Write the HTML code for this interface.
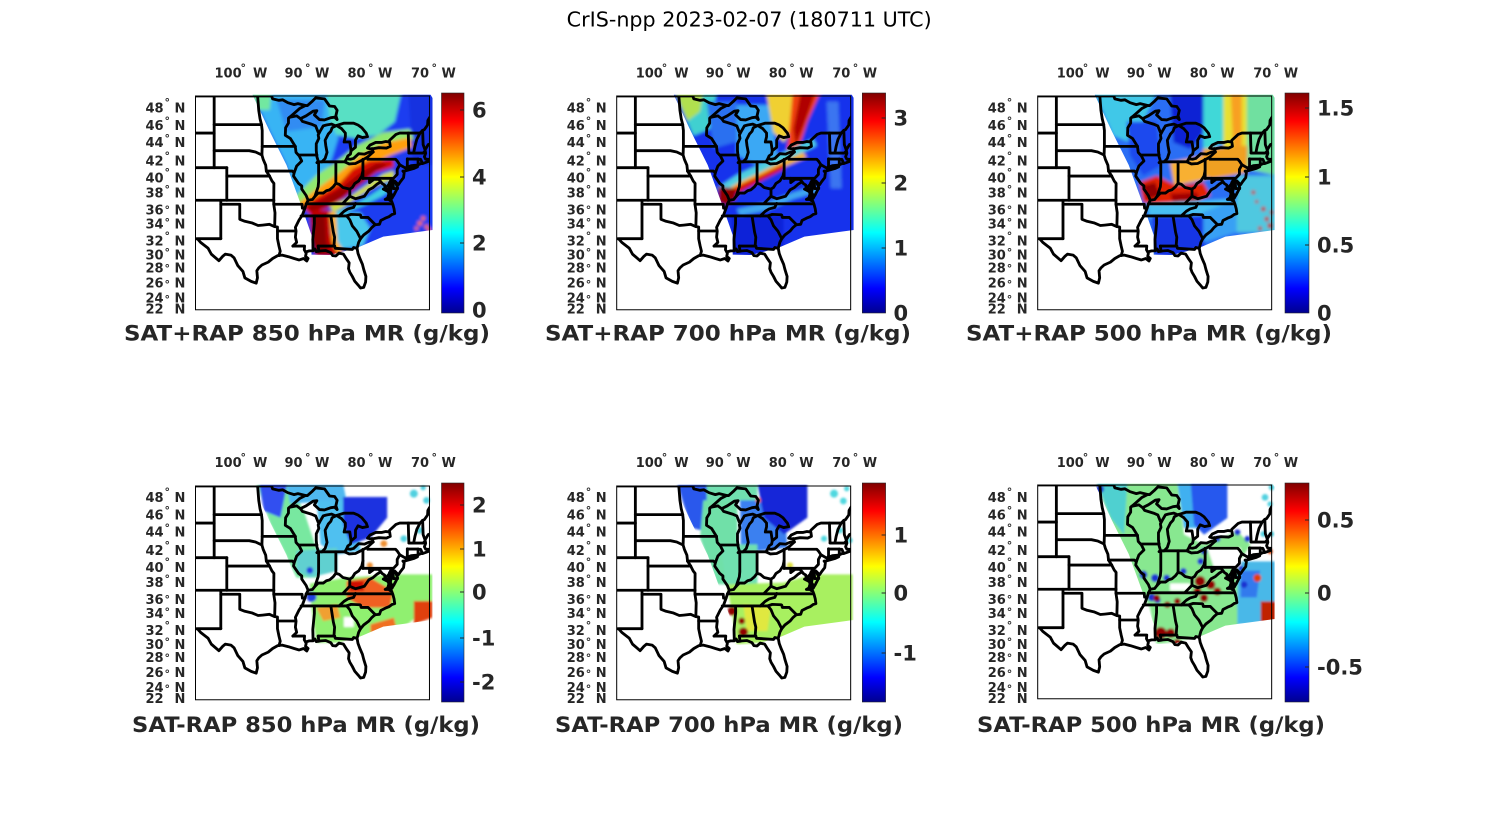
<!DOCTYPE html>
<html><head><meta charset="utf-8">
<style>
html,body{margin:0;padding:0;background:#fff;width:1500px;height:825px;overflow:hidden;}
svg{display:block;}
.t{font-family:"DejaVu Sans","Liberation Sans",sans-serif;font-weight:bold;font-size:13px;fill:#262626;}
.d{font-family:"DejaVu Sans","Liberation Sans",sans-serif;font-weight:bold;font-size:11px;fill:#262626;}
.c{font-family:"DejaVu Sans","Liberation Sans",sans-serif;font-weight:bold;font-size:21px;fill:#262626;}
.h{font-family:"DejaVu Sans","Liberation Sans",sans-serif;font-weight:bold;font-size:21.5px;fill:#262626;}
.m{font-family:"DejaVu Sans","Liberation Sans",sans-serif;font-size:20px;fill:#000;}
</style></head>
<body>
<svg id="s" width="1500" height="825" viewBox="0 0 1500 825" xmlns="http://www.w3.org/2000/svg">
<defs>
<linearGradient id="jet" x1="0" y1="1" x2="0" y2="0">
<stop offset="0" stop-color="#00008f"/>
<stop offset="0.111" stop-color="#0000ff"/>
<stop offset="0.365" stop-color="#00ffff"/>
<stop offset="0.619" stop-color="#ffff00"/>
<stop offset="0.873" stop-color="#ff0000"/>
<stop offset="1" stop-color="#800000"/>
</linearGradient>
<filter id="bl" filterUnits="userSpaceOnUse" x="-200" y="-200" width="1600" height="1400"><feGaussianBlur stdDeviation="5"/></filter>
<filter id="bl2" filterUnits="userSpaceOnUse" x="-200" y="-200" width="1600" height="1400"><feGaussianBlur stdDeviation="3.5"/></filter>
</defs>
<rect x="0" y="0" width="1500" height="825" fill="#fff"/>

<text class="m" x="749.2" y="26.7" text-anchor="middle" textLength="365" lengthAdjust="spacingAndGlyphs">CrIS-npp 2023-02-07 (180711 UTC)</text>

<g id="maps"></g>

<!-- colorbars -->
<rect x="441.5" y="93" width="22.5" height="220" fill="url(#jet)" stroke="#262626" stroke-width="0.6"/>
<rect x="862.3" y="93" width="23.3" height="220" fill="url(#jet)" stroke="#262626" stroke-width="0.6"/>
<rect x="1285" y="93" width="24" height="220" fill="url(#jet)" stroke="#262626" stroke-width="0.6"/>
<rect x="441.5" y="483" width="22.5" height="219" fill="url(#jet)" stroke="#262626" stroke-width="0.6"/>
<rect x="862.3" y="483" width="23.3" height="219" fill="url(#jet)" stroke="#262626" stroke-width="0.6"/>
<rect x="1285" y="483" width="24" height="219" fill="url(#jet)" stroke="#262626" stroke-width="0.6"/>
<path d="M460,110h4M460,177h4M460,243h4M881.6,118h4M881.6,183h4M881.6,248h4M1305,108h4M1305,177h4M1305,245h4M460,505h4M460,549h4M460,592h4M460,638h4M460,682h4M881.6,535h4M881.6,593h4M881.6,653h4M1305,520h4M1305,593h4M1305,667h4" stroke="#262626" stroke-width="1" fill="none"/>

<!-- colorbar labels -->
<text class="c" x="472" y="117.6">6</text>
<text class="c" x="472" y="184.6">4</text>
<text class="c" x="472" y="250.6">2</text>
<text class="c" x="472" y="317.6">0</text>
<text class="c" x="893.5" y="125.6">3</text>
<text class="c" x="893.5" y="190.6">2</text>
<text class="c" x="893.5" y="255.6">1</text>
<text class="c" x="893.5" y="320.6">0</text>
<text class="c" x="1317" y="115.6">1.5</text>
<text class="c" x="1317" y="184.6">1</text>
<text class="c" x="1317" y="252.6">0.5</text>
<text class="c" x="1317" y="320.6">0</text>
<text class="c" x="472" y="512.6">2</text>
<text class="c" x="472" y="556.6">1</text>
<text class="c" x="472" y="599.6">0</text>
<text class="c" x="472" y="645.6">-1</text>
<text class="c" x="472" y="689.6">-2</text>
<text class="c" x="893.5" y="542.6">1</text>
<text class="c" x="893.5" y="600.6">0</text>
<text class="c" x="893.5" y="660.6">-1</text>
<text class="c" x="1317" y="527.6">0.5</text>
<text class="c" x="1317" y="600.6">0</text>
<text class="c" x="1317" y="674.6">-0.5</text>

<!-- panel titles -->
<text class="h" x="307" y="340.5" text-anchor="middle" textLength="366" lengthAdjust="spacingAndGlyphs">SAT+RAP 850 hPa MR (g/kg)</text>
<text class="h" x="728" y="340.5" text-anchor="middle" textLength="366" lengthAdjust="spacingAndGlyphs">SAT+RAP 700 hPa MR (g/kg)</text>
<text class="h" x="1149" y="340.5" text-anchor="middle" textLength="366" lengthAdjust="spacingAndGlyphs">SAT+RAP 500 hPa MR (g/kg)</text>
<text class="h" x="306" y="732" text-anchor="middle" textLength="348" lengthAdjust="spacingAndGlyphs">SAT-RAP 850 hPa MR (g/kg)</text>
<text class="h" x="729" y="732" text-anchor="middle" textLength="348" lengthAdjust="spacingAndGlyphs">SAT-RAP 700 hPa MR (g/kg)</text>
<text class="h" x="1151" y="732" text-anchor="middle" textLength="348" lengthAdjust="spacingAndGlyphs">SAT-RAP 500 hPa MR (g/kg)</text>

<!-- axis labels panel 1 -->
<g transform="translate(195.5,96)">
<text class="t" x="19" y="-18.5">100</text><text class="d" x="45" y="-24.3">°</text><text class="t" x="57.5" y="-18.5">W</text>
<text class="t" x="89" y="-18.5">90</text><text class="d" x="109.5" y="-24.3">°</text><text class="t" x="119.5" y="-18.5">W</text>
<text class="t" x="152" y="-18.5">80</text><text class="d" x="172.5" y="-24.3">°</text><text class="t" x="182.5" y="-18.5">W</text>
<text class="t" x="215.5" y="-18.5">70</text><text class="d" x="236" y="-24.3">°</text><text class="t" x="246" y="-18.5">W</text>
<text class="t" x="-50" y="16.7">48</text><text class="d" x="-31" y="10.2">°</text><text class="t" x="-21" y="16.7">N</text>
<text class="t" x="-50" y="34">46</text><text class="d" x="-31" y="28.5">°</text><text class="t" x="-21" y="34">N</text>
<text class="t" x="-50" y="51">44</text><text class="d" x="-31" y="45.9">°</text><text class="t" x="-21" y="51">N</text>
<text class="t" x="-50" y="69.7">42</text><text class="d" x="-31" y="63.5">°</text><text class="t" x="-21" y="69.7">N</text>
<text class="t" x="-50" y="86.7">40</text><text class="d" x="-31" y="80.2">°</text><text class="t" x="-21" y="86.7">N</text>
<text class="t" x="-50" y="101.3">38</text><text class="d" x="-31" y="96.9">°</text><text class="t" x="-21" y="101.3">N</text>
<text class="t" x="-50" y="118.3">36</text><text class="d" x="-31" y="117.5">°</text><text class="t" x="-21" y="118.3">N</text>
<text class="t" x="-50" y="132.3">34</text><text class="d" x="-31" y="130.2">°</text><text class="t" x="-21" y="132.3">N</text>
<text class="t" x="-50" y="149.7">32</text><text class="d" x="-31" y="143.5">°</text><text class="t" x="-21" y="149.7">N</text>
<text class="t" x="-50" y="163.3">30</text><text class="d" x="-31" y="160.2">°</text><text class="t" x="-21" y="163.3">N</text>
<text class="t" x="-50" y="176.7">28</text><text class="d" x="-31" y="176.2">°</text><text class="t" x="-21" y="176.7">N</text>
<text class="t" x="-50" y="191.7">26</text><text class="d" x="-31" y="191.9">°</text><text class="t" x="-21" y="191.7">N</text>
<text class="t" x="-50" y="206.3">24</text><text class="d" x="-31" y="206.9">°</text><text class="t" x="-21" y="206.3">N</text>
<text class="t" x="-50" y="217.3">22</text><text class="t" x="-21" y="217.3">N</text>
</g>
<!-- axis labels panel 2 -->
<g transform="translate(616.7,96)">
<text class="t" x="19" y="-18.5">100</text><text class="d" x="45" y="-24.3">°</text><text class="t" x="57.5" y="-18.5">W</text>
<text class="t" x="89" y="-18.5">90</text><text class="d" x="109.5" y="-24.3">°</text><text class="t" x="119.5" y="-18.5">W</text>
<text class="t" x="152" y="-18.5">80</text><text class="d" x="172.5" y="-24.3">°</text><text class="t" x="182.5" y="-18.5">W</text>
<text class="t" x="215.5" y="-18.5">70</text><text class="d" x="236" y="-24.3">°</text><text class="t" x="246" y="-18.5">W</text>
<text class="t" x="-50" y="16.7">48</text><text class="d" x="-31" y="10.2">°</text><text class="t" x="-21" y="16.7">N</text>
<text class="t" x="-50" y="34">46</text><text class="d" x="-31" y="28.5">°</text><text class="t" x="-21" y="34">N</text>
<text class="t" x="-50" y="51">44</text><text class="d" x="-31" y="45.9">°</text><text class="t" x="-21" y="51">N</text>
<text class="t" x="-50" y="69.7">42</text><text class="d" x="-31" y="63.5">°</text><text class="t" x="-21" y="69.7">N</text>
<text class="t" x="-50" y="86.7">40</text><text class="d" x="-31" y="80.2">°</text><text class="t" x="-21" y="86.7">N</text>
<text class="t" x="-50" y="101.3">38</text><text class="d" x="-31" y="96.9">°</text><text class="t" x="-21" y="101.3">N</text>
<text class="t" x="-50" y="118.3">36</text><text class="d" x="-31" y="117.5">°</text><text class="t" x="-21" y="118.3">N</text>
<text class="t" x="-50" y="132.3">34</text><text class="d" x="-31" y="130.2">°</text><text class="t" x="-21" y="132.3">N</text>
<text class="t" x="-50" y="149.7">32</text><text class="d" x="-31" y="143.5">°</text><text class="t" x="-21" y="149.7">N</text>
<text class="t" x="-50" y="163.3">30</text><text class="d" x="-31" y="160.2">°</text><text class="t" x="-21" y="163.3">N</text>
<text class="t" x="-50" y="176.7">28</text><text class="d" x="-31" y="176.2">°</text><text class="t" x="-21" y="176.7">N</text>
<text class="t" x="-50" y="191.7">26</text><text class="d" x="-31" y="191.9">°</text><text class="t" x="-21" y="191.7">N</text>
<text class="t" x="-50" y="206.3">24</text><text class="d" x="-31" y="206.9">°</text><text class="t" x="-21" y="206.3">N</text>
<text class="t" x="-50" y="217.3">22</text><text class="t" x="-21" y="217.3">N</text>
</g>
<!-- axis labels panel 3 -->
<g transform="translate(1037.7,96)">
<text class="t" x="19" y="-18.5">100</text><text class="d" x="45" y="-24.3">°</text><text class="t" x="57.5" y="-18.5">W</text>
<text class="t" x="89" y="-18.5">90</text><text class="d" x="109.5" y="-24.3">°</text><text class="t" x="119.5" y="-18.5">W</text>
<text class="t" x="152" y="-18.5">80</text><text class="d" x="172.5" y="-24.3">°</text><text class="t" x="182.5" y="-18.5">W</text>
<text class="t" x="215.5" y="-18.5">70</text><text class="d" x="236" y="-24.3">°</text><text class="t" x="246" y="-18.5">W</text>
<text class="t" x="-50" y="16.7">48</text><text class="d" x="-31" y="10.2">°</text><text class="t" x="-21" y="16.7">N</text>
<text class="t" x="-50" y="34">46</text><text class="d" x="-31" y="28.5">°</text><text class="t" x="-21" y="34">N</text>
<text class="t" x="-50" y="51">44</text><text class="d" x="-31" y="45.9">°</text><text class="t" x="-21" y="51">N</text>
<text class="t" x="-50" y="69.7">42</text><text class="d" x="-31" y="63.5">°</text><text class="t" x="-21" y="69.7">N</text>
<text class="t" x="-50" y="86.7">40</text><text class="d" x="-31" y="80.2">°</text><text class="t" x="-21" y="86.7">N</text>
<text class="t" x="-50" y="101.3">38</text><text class="d" x="-31" y="96.9">°</text><text class="t" x="-21" y="101.3">N</text>
<text class="t" x="-50" y="118.3">36</text><text class="d" x="-31" y="117.5">°</text><text class="t" x="-21" y="118.3">N</text>
<text class="t" x="-50" y="132.3">34</text><text class="d" x="-31" y="130.2">°</text><text class="t" x="-21" y="132.3">N</text>
<text class="t" x="-50" y="149.7">32</text><text class="d" x="-31" y="143.5">°</text><text class="t" x="-21" y="149.7">N</text>
<text class="t" x="-50" y="163.3">30</text><text class="d" x="-31" y="160.2">°</text><text class="t" x="-21" y="163.3">N</text>
<text class="t" x="-50" y="176.7">28</text><text class="d" x="-31" y="176.2">°</text><text class="t" x="-21" y="176.7">N</text>
<text class="t" x="-50" y="191.7">26</text><text class="d" x="-31" y="191.9">°</text><text class="t" x="-21" y="191.7">N</text>
<text class="t" x="-50" y="206.3">24</text><text class="d" x="-31" y="206.9">°</text><text class="t" x="-21" y="206.3">N</text>
<text class="t" x="-50" y="217.3">22</text><text class="t" x="-21" y="217.3">N</text>
</g>
<!-- axis labels panel 4 -->
<g transform="translate(195.5,485.5)">
<text class="t" x="19" y="-18.5">100</text><text class="d" x="45" y="-24.3">°</text><text class="t" x="57.5" y="-18.5">W</text>
<text class="t" x="89" y="-18.5">90</text><text class="d" x="109.5" y="-24.3">°</text><text class="t" x="119.5" y="-18.5">W</text>
<text class="t" x="152" y="-18.5">80</text><text class="d" x="172.5" y="-24.3">°</text><text class="t" x="182.5" y="-18.5">W</text>
<text class="t" x="215.5" y="-18.5">70</text><text class="d" x="236" y="-24.3">°</text><text class="t" x="246" y="-18.5">W</text>
<text class="t" x="-50" y="16.7">48</text><text class="d" x="-31" y="10.2">°</text><text class="t" x="-21" y="16.7">N</text>
<text class="t" x="-50" y="34">46</text><text class="d" x="-31" y="28.5">°</text><text class="t" x="-21" y="34">N</text>
<text class="t" x="-50" y="51">44</text><text class="d" x="-31" y="45.9">°</text><text class="t" x="-21" y="51">N</text>
<text class="t" x="-50" y="69.7">42</text><text class="d" x="-31" y="63.5">°</text><text class="t" x="-21" y="69.7">N</text>
<text class="t" x="-50" y="86.7">40</text><text class="d" x="-31" y="80.2">°</text><text class="t" x="-21" y="86.7">N</text>
<text class="t" x="-50" y="101.3">38</text><text class="d" x="-31" y="96.9">°</text><text class="t" x="-21" y="101.3">N</text>
<text class="t" x="-50" y="118.3">36</text><text class="d" x="-31" y="117.5">°</text><text class="t" x="-21" y="118.3">N</text>
<text class="t" x="-50" y="132.3">34</text><text class="d" x="-31" y="130.2">°</text><text class="t" x="-21" y="132.3">N</text>
<text class="t" x="-50" y="149.7">32</text><text class="d" x="-31" y="143.5">°</text><text class="t" x="-21" y="149.7">N</text>
<text class="t" x="-50" y="163.3">30</text><text class="d" x="-31" y="160.2">°</text><text class="t" x="-21" y="163.3">N</text>
<text class="t" x="-50" y="176.7">28</text><text class="d" x="-31" y="176.2">°</text><text class="t" x="-21" y="176.7">N</text>
<text class="t" x="-50" y="191.7">26</text><text class="d" x="-31" y="191.9">°</text><text class="t" x="-21" y="191.7">N</text>
<text class="t" x="-50" y="206.3">24</text><text class="d" x="-31" y="206.9">°</text><text class="t" x="-21" y="206.3">N</text>
<text class="t" x="-50" y="217.3">22</text><text class="t" x="-21" y="217.3">N</text>
</g>
<!-- axis labels panel 5 -->
<g transform="translate(616.7,485.5)">
<text class="t" x="19" y="-18.5">100</text><text class="d" x="45" y="-24.3">°</text><text class="t" x="57.5" y="-18.5">W</text>
<text class="t" x="89" y="-18.5">90</text><text class="d" x="109.5" y="-24.3">°</text><text class="t" x="119.5" y="-18.5">W</text>
<text class="t" x="152" y="-18.5">80</text><text class="d" x="172.5" y="-24.3">°</text><text class="t" x="182.5" y="-18.5">W</text>
<text class="t" x="215.5" y="-18.5">70</text><text class="d" x="236" y="-24.3">°</text><text class="t" x="246" y="-18.5">W</text>
<text class="t" x="-50" y="16.7">48</text><text class="d" x="-31" y="10.2">°</text><text class="t" x="-21" y="16.7">N</text>
<text class="t" x="-50" y="34">46</text><text class="d" x="-31" y="28.5">°</text><text class="t" x="-21" y="34">N</text>
<text class="t" x="-50" y="51">44</text><text class="d" x="-31" y="45.9">°</text><text class="t" x="-21" y="51">N</text>
<text class="t" x="-50" y="69.7">42</text><text class="d" x="-31" y="63.5">°</text><text class="t" x="-21" y="69.7">N</text>
<text class="t" x="-50" y="86.7">40</text><text class="d" x="-31" y="80.2">°</text><text class="t" x="-21" y="86.7">N</text>
<text class="t" x="-50" y="101.3">38</text><text class="d" x="-31" y="96.9">°</text><text class="t" x="-21" y="101.3">N</text>
<text class="t" x="-50" y="118.3">36</text><text class="d" x="-31" y="117.5">°</text><text class="t" x="-21" y="118.3">N</text>
<text class="t" x="-50" y="132.3">34</text><text class="d" x="-31" y="130.2">°</text><text class="t" x="-21" y="132.3">N</text>
<text class="t" x="-50" y="149.7">32</text><text class="d" x="-31" y="143.5">°</text><text class="t" x="-21" y="149.7">N</text>
<text class="t" x="-50" y="163.3">30</text><text class="d" x="-31" y="160.2">°</text><text class="t" x="-21" y="163.3">N</text>
<text class="t" x="-50" y="176.7">28</text><text class="d" x="-31" y="176.2">°</text><text class="t" x="-21" y="176.7">N</text>
<text class="t" x="-50" y="191.7">26</text><text class="d" x="-31" y="191.9">°</text><text class="t" x="-21" y="191.7">N</text>
<text class="t" x="-50" y="206.3">24</text><text class="d" x="-31" y="206.9">°</text><text class="t" x="-21" y="206.3">N</text>
<text class="t" x="-50" y="217.3">22</text><text class="t" x="-21" y="217.3">N</text>
</g>
<!-- axis labels panel 6 -->
<g transform="translate(1037.7,485.5)">
<text class="t" x="19" y="-18.5">100</text><text class="d" x="45" y="-24.3">°</text><text class="t" x="57.5" y="-18.5">W</text>
<text class="t" x="89" y="-18.5">90</text><text class="d" x="109.5" y="-24.3">°</text><text class="t" x="119.5" y="-18.5">W</text>
<text class="t" x="152" y="-18.5">80</text><text class="d" x="172.5" y="-24.3">°</text><text class="t" x="182.5" y="-18.5">W</text>
<text class="t" x="215.5" y="-18.5">70</text><text class="d" x="236" y="-24.3">°</text><text class="t" x="246" y="-18.5">W</text>
<text class="t" x="-50" y="16.7">48</text><text class="d" x="-31" y="10.2">°</text><text class="t" x="-21" y="16.7">N</text>
<text class="t" x="-50" y="34">46</text><text class="d" x="-31" y="28.5">°</text><text class="t" x="-21" y="34">N</text>
<text class="t" x="-50" y="51">44</text><text class="d" x="-31" y="45.9">°</text><text class="t" x="-21" y="51">N</text>
<text class="t" x="-50" y="69.7">42</text><text class="d" x="-31" y="63.5">°</text><text class="t" x="-21" y="69.7">N</text>
<text class="t" x="-50" y="86.7">40</text><text class="d" x="-31" y="80.2">°</text><text class="t" x="-21" y="86.7">N</text>
<text class="t" x="-50" y="101.3">38</text><text class="d" x="-31" y="96.9">°</text><text class="t" x="-21" y="101.3">N</text>
<text class="t" x="-50" y="118.3">36</text><text class="d" x="-31" y="117.5">°</text><text class="t" x="-21" y="118.3">N</text>
<text class="t" x="-50" y="132.3">34</text><text class="d" x="-31" y="130.2">°</text><text class="t" x="-21" y="132.3">N</text>
<text class="t" x="-50" y="149.7">32</text><text class="d" x="-31" y="143.5">°</text><text class="t" x="-21" y="149.7">N</text>
<text class="t" x="-50" y="163.3">30</text><text class="d" x="-31" y="160.2">°</text><text class="t" x="-21" y="163.3">N</text>
<text class="t" x="-50" y="176.7">28</text><text class="d" x="-31" y="176.2">°</text><text class="t" x="-21" y="176.7">N</text>
<text class="t" x="-50" y="191.7">26</text><text class="d" x="-31" y="191.9">°</text><text class="t" x="-21" y="191.7">N</text>
<text class="t" x="-50" y="206.3">24</text><text class="d" x="-31" y="206.9">°</text><text class="t" x="-21" y="206.3">N</text>
<text class="t" x="-50" y="217.3">22</text><text class="t" x="-21" y="217.3">N</text>
</g>
</svg>
<script>
(function(){
var NS='http://www.w3.org/2000/svg';
var svg=document.getElementById('s');
var defs=svg.querySelector('defs');
var maps=document.getElementById('maps');
function el(t,a,p){var e=document.createElementNS(NS,t);for(var k in a)e.setAttribute(k,a[k]);p.appendChild(e);return e;}
function Mf(lat){return Math.log(Math.tan(Math.PI/4+lat*Math.PI/360));}
var M49=Mf(49),W=701.9,H=(M49-Mf(22))*1086.9;
function P(lon,lat){return ((lon+107)*18.97).toFixed(1)+','+((M49-Mf(lat))*1086.9).toFixed(1);}
var SW=[171,-4,705,-4,711,6,711,402,563,422,493,452,443,467,403,477,348,476,348,417,313,317,273,207,223,107];

var G=[
[-106.6,31.9,-106.2,31.5,-105.0,30.7,-104.5,29.9,-103.3,29.0,-102.7,29.6,-102.3,29.9,-101.4,29.77,-100.9,29.4,-100.3,28.3,-99.5,27.5,-99.2,26.6,-98.2,26.1,-97.4,25.85,-97.2,26.6,-97.3,27.6,-97.0,28.0,-96.5,28.4,-95.5,28.8,-94.8,29.3,-94.0,29.7,-93.3,29.77,-92.3,29.55,-91.4,29.3,-90.6,29.1,-89.9,29.3,-89.4,28.95,-89.2,29.3,-89.6,29.6,-89.5,30.0,-89.6,30.2,-89.0,30.35,-88.4,30.35,-88.1,30.6,-87.9,30.25,-87.2,30.35,-86.4,30.4,-85.6,30.1,-85.3,29.7,-84.8,29.65,-84.3,30.05,-83.6,29.9,-83.1,29.2,-82.7,28.7,-82.8,27.9,-82.6,27.4,-82.2,26.8,-81.8,26.1,-81.3,25.6,-80.9,25.15,-80.4,25.25,-80.1,26.0,-80.05,26.8,-80.4,27.8,-80.6,28.5,-81.0,29.3,-81.3,30.0,-81.45,30.7,-81.2,31.5,-80.9,32.0,-80.4,32.5,-79.6,33.0,-79.1,33.5,-78.6,33.85,-77.9,33.9,-77.7,34.4,-77.0,34.7,-76.4,34.9,-75.9,35.2,-75.5,35.3,-75.6,35.9,-75.8,36.5,-76.0,36.9,-76.3,37.0,-76.3,37.5,-76.5,38.0,-76.3,38.4,-76.4,39.0,-76.1,39.5,-75.9,39.4,-76.0,38.9,-76.3,38.1,-75.9,37.6,-76.0,37.2,-75.6,37.7,-75.2,38.3,-75.05,38.6,-75.2,38.9,-75.5,39.4,-75.0,39.0,-74.9,38.95,-74.6,39.3,-74.1,39.8,-74.0,40.4,-74.2,40.6,-73.9,40.6,-72.5,40.9,-71.9,41.1,-72.6,41.0,-73.7,40.85,-73.7,41.0,-72.9,41.25,-72.0,41.3,-71.3,41.5,-71.1,41.5,-70.7,41.6,-70.0,41.8,-70.0,42.0,-70.6,42.0,-70.8,42.3,-70.6,42.7,-70.7,43.1,-70.2,43.7,-69.5,43.9],
[-77.3,38.4,-76.3,38.0,-76.9,38.6,-76.5,38.9,-76.2,38.4,-76.6,37.3,-77.0,37.1,-76.4,37.1,-75.9,37.3,-76.2,38.0,-76.0,38.6,-76.3,39.2],
[-107.5,49,-95.15,49,-95.15,49.3,-94.8,48.7,-93.8,48.55,-93.2,48.6,-92.4,48.3,-91.4,48.1,-90.8,48.2,-89.6,48.0,-90.5,47.7,-91.5,47.1,-92.1,46.75],
[-92.1,46.75,-91.0,46.9,-90.4,46.6,-89.5,46.9,-88.4,47.4,-87.8,47.45,-88.2,47.0,-87.4,46.5,-86.6,46.45,-85.6,46.7,-85.0,46.75,-84.6,46.5,-84.8,46.9,-84.6,47.5,-85.0,47.9,-85.8,47.95,-86.6,48.7,-88.0,48.8,-88.6,48.4,-89.3,48.0,-89.6,48.0],
[-87.8,41.6,-87.5,41.7,-87.0,41.7,-86.5,42.1,-86.2,42.8,-86.4,43.6,-86.5,44.2,-86.0,44.9,-85.6,45.2,-85.4,45.6,-84.8,45.8,-85.5,46.0,-86.3,45.9,-86.8,45.8,-87.3,45.2,-87.6,44.8,-87.5,44.4,-87.9,43.8,-87.9,43.0,-87.8,42.3,-87.6,41.8,-87.8,41.6],
[-84.7,45.85,-84.0,46.0,-83.5,46.1,-82.0,46.1,-81.3,45.9,-80.7,45.6,-80.0,45.0,-79.8,44.6,-80.6,44.5,-81.3,44.7,-81.7,44.2,-81.7,43.4,-82.4,43.0,-82.5,43.5,-82.6,44.0,-83.1,44.0,-83.5,44.0,-83.3,44.6,-83.3,45.0,-83.9,45.5,-84.7,45.85],
[-82.4,43.0,-82.5,42.6,-82.9,42.4,-83.1,42.05],
[-83.4,41.7,-82.7,41.45,-81.7,41.5,-80.5,41.95,-79.8,42.25,-78.9,42.85,-79.5,42.85,-80.3,42.6,-81.2,42.65,-82.0,42.1,-82.5,42.0,-83.1,42.05,-83.4,41.7],
[-78.9,42.85,-79.1,43.25],
[-79.8,43.3,-79.2,43.2,-78.0,43.35,-76.8,43.3,-76.2,43.5,-76.3,44.0,-76.9,44.05,-77.5,43.95,-78.5,43.95,-79.4,43.65,-79.8,43.3],
[-76.3,44.2,-75.3,44.85,-74.7,45.0,-71.5,45.0,-71.1,45.3,-70.8,45.4,-70.3,45.9,-70.25,46.4,-70.0,46.7,-69.2,47.45],
[-107.5,45.0,-104.05,45.0],
[-104.05,45.94,-96.56,45.94],
[-107.5,41.0,-102.05,41.0],
[-104.05,49.2,-104.05,41.0],
[-102.05,41.0,-102.05,37.0],
[-102.05,40.0,-95.3,40.0],
[-107.5,37.0,-94.62,37.0],
[-103.0,37.0,-103.0,32.0],
[-107.5,31.95,-106.6,32.0,-103.0,32.0],
[-103.0,36.5,-100.0,36.5,-100.0,34.56,-99.2,34.3,-98.1,34.1,-97.1,33.75,-96.4,33.8,-95.3,33.9,-94.5,33.6,-94.04,33.55,-94.04,31.99,-93.8,31.0,-93.6,30.3,-93.8,29.7],
[-94.62,37.0,-94.62,36.5,-94.43,35.4,-94.48,33.64],
[-95.3,40.0,-94.9,39.4,-94.6,39.1,-94.62,37.0],
[-104.05,43.0,-98.5,43.0,-97.5,42.85,-96.5,42.5,-96.3,42.0,-95.9,41.3,-95.8,40.6,-95.3,40.0],
[-96.5,42.5,-96.45,43.5,-96.45,45.3,-96.56,45.94,-96.8,46.6,-97.0,47.5,-97.2,49.2],
[-96.45,43.5,-91.22,43.5],
[-95.8,40.6,-91.7,40.6,-91.4,40.4],
[-91.22,43.5,-91.1,42.8,-90.6,42.4,-90.2,41.8,-91.0,41.2,-91.4,40.4,-91.5,40.0,-90.7,39.1,-90.2,38.8,-90.2,38.4,-89.5,37.6,-89.2,37.0,-89.5,36.5,-89.7,36.0,-90.1,35.1,-90.6,34.5,-91.2,33.5,-91.1,33.0,-91.2,32.2,-91.0,31.5,-91.6,31.0],
[-91.22,43.5,-92.0,44.4,-92.8,44.75,-92.75,45.6,-92.3,46.1,-92.3,46.65,-92.1,46.75],
[-90.64,42.5,-87.8,42.5],
[-87.6,45.1,-88.0,45.8,-88.7,46.0,-90.1,46.3,-90.4,46.6],
[-87.53,41.7,-87.53,39.3,-87.6,38.7,-87.9,38.0,-88.1,37.5],
[-89.2,37.0,-88.5,37.1,-88.1,37.5,-87.6,37.9,-86.8,37.9,-86.3,38.2,-85.8,38.3,-85.2,38.7,-84.8,39.1,-84.3,39.0,-83.7,38.6,-82.6,38.4,-82.2,38.6,-81.8,39.1,-81.2,39.4,-80.7,40.0,-80.52,40.64],
[-84.8,39.1,-84.8,41.7],
[-87.1,41.7,-83.45,41.7],
[-80.52,39.72,-80.52,42.0],
[-79.76,42.27,-79.76,42.0,-75.36,42.0,-75.1,41.8,-74.7,41.35,-73.9,41.0],
[-74.7,41.35,-75.1,40.8,-75.1,40.2,-75.6,39.8],
[-80.52,39.72,-75.79,39.72,-75.7,38.46,-75.05,38.46],
[-79.48,39.72,-79.48,39.2,-78.8,39.6,-78.0,39.6,-77.7,39.3,-77.5,39.1,-77.1,38.9,-77.0,38.4,-76.3,38.0],
[-77.7,39.3,-78.3,39.0,-78.9,38.6,-79.6,38.3,-80.3,37.5,-81.2,37.3,-81.7,37.2,-82.6,37.5,-82.6,38.4],
[-82.6,37.5,-83.7,36.6],
[-89.5,36.55,-75.9,36.55],
[-81.7,36.6,-82.0,36.1,-82.9,35.9,-83.5,35.6,-84.3,35.0],
[-90.3,35.0,-83.1,35.0],
[-83.1,35.0,-82.4,35.2,-81.0,35.15,-80.9,35.1,-80.8,34.8,-79.7,34.8,-78.55,33.85],
[-83.1,35.0,-82.6,34.5,-82.2,33.7,-81.5,33.0,-80.9,32.0],
[-88.2,35.0,-88.2,34.0,-88.45,31.9,-88.4,30.4],
[-85.6,35.0,-85.2,32.9,-85.0,32.2,-85.1,31.0],
[-87.6,31.0,-85.0,31.0],
[-87.6,31.0,-87.5,30.3],
[-85.0,31.0,-84.9,30.7,-82.2,30.55,-82.0,30.8,-81.5,30.7],
[-91.6,31.0,-89.75,31.0,-89.8,30.5,-89.6,30.2],
[-94.04,33.02,-91.15,33.02],
[-94.62,36.5,-90.15,36.5,-90.1,36.0,-89.7,36.0],
[-73.35,45.0,-73.3,43.6,-73.25,42.75],
[-73.5,42.05,-73.5,41.2,-73.66,41.0],
[-73.26,42.73,-71.0,42.73,-70.8,42.87],
[-72.5,42.73,-72.3,43.5,-72.0,44.3,-71.5,45.0],
[-70.7,43.1,-71.0,43.7,-71.08,45.3],
[-73.5,42.03,-71.8,42.03],
[-71.8,42.03,-71.8,41.3],
[-71.8,42.0,-71.4,42.0,-71.1,41.5]
];

var L1=[
['#38b4f4',[365,110,600,110,625,250,600,330,545,420,505,445,470,330,420,230]],
['#2a6cf0',[440,135,585,135,575,215,470,230],0.55],
['#58e0c4',[590,110,815,110,795,200,745,240,680,250,620,240,600,200]],
['#72e8a0',[360,110,425,110,420,165,385,165]],
['#1230e0',[835,110,915,110,915,330,850,330]],
['#90e870',[490,430,560,360,620,320,680,272,760,232,840,222,852,252,780,282,700,322,630,372,560,422,520,462]],
['#ffa010',[502,448,560,402,630,352,690,302,760,264,842,247,846,277,780,302,720,332,660,382,600,432,540,472]],
['#d81000',[515,455,570,420,628,386,668,342,720,316,790,312,792,336,740,352,690,390,640,430,590,460,540,476]],
['#9a0000',[530,456,580,430,638,396,688,356,740,326,780,326,740,346,690,386,640,426,590,456,545,470]],
['#d0e040',[600,452,650,432,700,397,760,357,792,347,792,372,740,392,690,422,640,457,610,472]],
['#40d0e0',[610,472,660,457,720,422,780,382,800,392,760,422,700,452,650,472,620,482]],
['#48c8ec',[612,476,690,472,722,520,700,572,640,582,618,560]],
['#c00000',[540,468,598,465,603,540,618,585,645,602,558,606,545,560]],
['#8a0000',[546,480,586,480,590,560,602,598,560,600,548,560]],
['#ffb020',[598,470,618,470,623,560,642,588,622,594,606,560]],
['c','#ff7010',[870,505,7],[890,515,6],[880,490,6],[898,525,6],[860,520,5]]
];
var L2=[
['#40d0d0',[375,110,500,110,480,222,430,242,400,172]],
['#b0e050',[375,110,460,110,450,170,412,198,395,160]],
['#2a70f0',[470,140,560,140,560,260,490,280]],
['#3aa8f4',[560,150,660,150,682,300,620,330,560,300]],
['#f0d030',[648,110,760,110,732,200,702,262,670,232]],
['#f04010',[728,110,812,110,772,200,742,292,710,292,720,200]],
['#b00000',[752,110,797,110,762,210,737,272,730,222]],
['#50d0e0',[500,400,560,360,640,322,720,282,790,252,800,272,720,312,640,352,560,392,520,422]],
['#f0b020',[505,420,560,385,640,347,700,317,760,292,770,307,700,337,640,372,560,412,520,442]],
['#d81000',[505,422,560,394,640,357,700,327,705,340,640,374,565,414,520,447]],
['#900000',[505,395,555,400,560,430,530,452,505,442]],
['#40a8f0',[560,462,650,442,730,412,800,392,800,412,730,432,650,467,570,482]],
['#0a22d8',[545,482,700,482,700,610,545,610]],
['#3a74f0',[830,140,865,140,875,400,842,400]]
];
var L3=[
['#40c8e8',[372,110,560,110,520,200,480,262,430,242]],
['#1a48ee',[470,200,560,200,572,332,520,362,480,302]],
['#0c22d4',[600,110,700,110,700,232,660,282,610,262]],
['#40d8d8',[700,110,762,110,762,262,700,292]],
['#e8e030',[760,110,832,110,832,332,760,332]],
['#f8a020',[782,110,815,110,815,282,790,282]],
['#70e0a0',[830,110,920,110,920,362,830,342]],
['#f0a020',[700,282,832,272,832,352,722,372,682,342]],
['#f8b030',[600,322,700,302,712,372,612,392]],
['#e02000',[508,382,560,362,620,392,700,382,722,422,650,447,560,447,520,442]],
['#900000',[520,392,555,382,570,422,530,432]],
['#a00000',[600,417,680,412,690,437,610,442]],
['#48c0f0',[530,447,780,432,792,472,540,492]],
['#1434e4',[545,482,712,482,702,610,555,610]],
['#38a0f4',[700,472,800,432,832,522,700,562]],
['#50c8e0',[800,362,920,362,920,532,800,532]],
['c','#c01000',[850,412,6],[880,462,7],[890,492,7],[900,512,8],[870,520,6],[905,472,6],[860,440,5]]
];
var L4=[
['#78e8a0',[380,100,480,100,522,182,562,302,562,382,500,382,462,302,422,222]],
['#3050f0',[388,100,472,100,452,202,402,182]],
['#50b8f0',[470,100,640,100,650,150,480,160]],
['#50c0f0',[560,150,682,150,692,302,622,312,572,282]],
['#1a30e0',[640,140,772,140,772,202,722,262,662,282,640,222]],
['#60d0d0',[500,302,622,292,622,362,540,382,500,362]],
['#90f070',[540,400,650,382,800,372,908,372,908,462,820,532,700,562,620,577,560,577,545,472]],
['#f06020',[650,392,720,382,790,422,780,472,700,472,650,442]],
['#d01000',[660,392,702,392,702,422,660,422]],
['#f0a030',[560,472,622,462,632,502,580,512]],
['#e04010',[852,452,908,452,908,502,852,522]],
['#f07020',[722,522,792,502,802,542,722,552]],
['#ffffff',[642,500,672,500,672,530,642,530]],
['c','#2040e0',[545,440,15],[540,360,10]],
['c','#50d0e0',[852,130,12],[890,150,10],[870,240,10],[822,265,10],[880,112,8]],
['c','#f09030',[762,280,10],[720,345,9]]
];
var L5=[
['#2a58ec',[382,100,472,100,492,182,462,242,422,232]],
['#70e0a8',[460,150,562,150,562,402,500,402,450,262]],
['#70e0b0',[470,100,622,100,622,152,470,152]],
['#3a80f0',[570,150,702,150,712,292,622,302,572,282]],
['#1428d8',[622,100,772,100,772,202,702,252,642,202]],
['#70e0b0',[510,282,622,282,622,402,530,402]],
['#a8f060',[530,402,700,397,790,372,908,372,908,512,700,572,560,582,545,482]],
['#e0e840',[580,462,662,472,652,542,590,542]],
['c','#900000',[547,482,14],[575,512,10],[580,545,14]],
['c','#50d8e0',[852,130,12],[890,115,8],[880,152,10],[822,265,9],[870,240,9],[900,270,8]],
['c','#e0e040',[720,345,9]],
['c','#f06020',[625,150,8]]
];
var L6=[
['#88e890',[380,96,622,96,642,252,702,282,802,242,842,282,802,342,832,402,802,542,700,557,560,582,540,472,500,402,450,302]],
['#50d0d0',[380,96,472,96,462,252,422,202]],
['#40b0f0',[622,96,672,96,682,232,642,232]],
['#2858ee',[662,96,772,96,772,202,702,252,672,222]],
['#48b8e8',[802,332,918,332,918,522,802,522]],
['#2a60f0',[812,360,870,360,860,440,812,440],0.7],
['#c02000',[872,452,918,452,918,522,872,522]],
['#ffffff',[712,292,812,292,812,352,732,352]],
['#ffffff',[600,398,660,398,660,420,600,420]],
['c','#1a30d0',[390,115,12],[520,372,12],[555,382,12],[590,382,10],[640,362,10],[702,302,10],[692,332,10],[742,265,9],[802,245,9],[832,265,9],[545,440,12],[562,448,10],[822,402,10],[812,352,8]],
['c','#900000',[690,392,16],[722,402,14],[742,422,12],[682,422,12],[702,442,12],[560,442,10],[592,462,10],[622,452,10],[572,547,18],[602,547,14],[622,577,12]],
['c','#e04000',[862,382,12],[900,302,8]],
['c','#50d0e0',[905,110,9],[885,140,10],[900,160,8],[880,250,9],[905,250,8]]
];

var panels=[
{ox:195.5,oy:96,zx:197,zy:123,base:'#1a3ef0',L:L1,f:'bl'},
{ox:616.7,oy:96,zx:200,zy:123,base:'#1232ec',L:L2,f:'bl'},
{ox:1037.7,oy:96,zx:203,zy:123,base:'#2a6ef4',L:L3,f:'bl'},
{ox:195.5,oy:486,zx:197,zy:107,base:null,L:L4,f:'bl2'},
{ox:616.7,oy:486,zx:200,zy:107,base:null,L:L5,f:'bl2'},
{ox:1037.7,oy:485,zx:203,zy:103,base:null,L:L6,f:'bl2'}
];

panels.forEach(function(p,i){
  var cp=el('clipPath',{id:'sw'+i},defs);
  el('polygon',{points:SW.join(' ')},cp);
  var cb=el('clipPath',{id:'bx'+i},defs);
  el('rect',{x:0,y:0,width:W,height:H},cb);
  var g=el('g',{transform:'translate('+p.ox+','+p.oy+') scale('+(1/3)+')'},maps);
  var dg=el('g',{'clip-path':'url(#sw'+i+')'},g);
  var ig=el('g',{filter:'url(#'+p.f+')',transform:'translate('+(-p.zx)+','+(-p.zy)+')'},dg);
  if(p.base) el('rect',{x:-100,y:-100,width:1400,height:1200,fill:p.base},ig);
  p.L.forEach(function(l){
    if(l[0]==='c'){for(var j=2;j<l.length;j++){var c=l[j];el('circle',{cx:c[0],cy:c[1],r:c[2],fill:l[1]},ig);}}
    else {var a={points:l[1].join(' '),fill:l[0]}; if(l.length>2) a['fill-opacity']=l[2]; el('polygon',a,ig);}
  });
  var lg=el('g',{'clip-path':'url(#bx'+i+')',fill:'none',stroke:'#000','stroke-width':8.5,'stroke-linejoin':'round','stroke-linecap':'round'},g);
  G.forEach(function(a){var s='';for(var j=0;j<a.length;j+=2)s+=P(a[j],a[j+1])+' ';el('polyline',{points:s},lg);});
  el('rect',{x:0,y:0,width:W,height:H,fill:'none',stroke:'#000','stroke-width':3},g);
});
})();
</script>
</body></html>
